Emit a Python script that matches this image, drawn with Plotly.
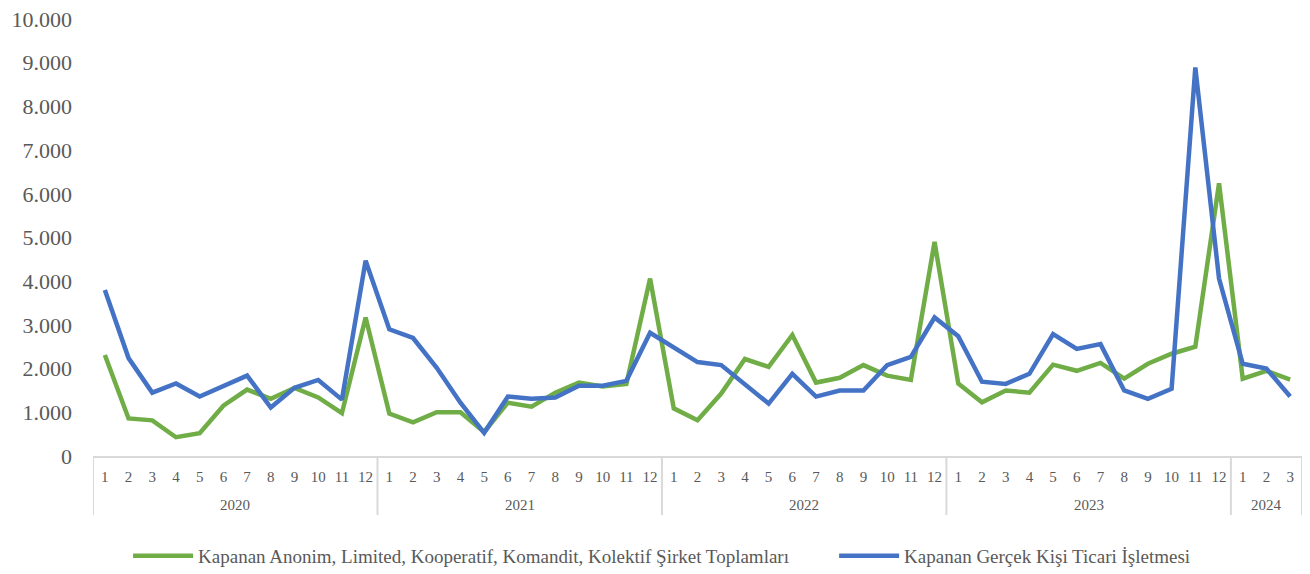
import plotly.graph_objs as go

# =============================================================================
# Data
# =============================================================================

YEARS = ["2020", "2021", "2022", "2023", "2024"]
MONTHS_IN_YEAR = [12, 12, 12, 12, 3]

SIRKET_NAME = "Kapanan Anonim, Limited, Kooperatif, Komandit, Kolektif Şirket Toplamları"
SIRKET = [
    2310, 860, 815, 430, 520, 1150, 1520, 1310, 1560, 1340, 980, 3170,
    970, 770, 1000, 1000, 550, 1220, 1130, 1450, 1680, 1590, 1650, 4060,
    1090, 820, 1430, 2220, 2040, 2770, 1680, 1790, 2080, 1840, 1740, 4900,
    1660, 1230, 1500, 1450, 2090, 1950, 2130, 1770, 2110, 2340, 2500, 6240,
    1770, 1950, 1750,
]

GERCEK_NAME = "Kapanan Gerçek Kişi Ticari İşletmesi"
GERCEK = [
    3800, 2240, 1450, 1660, 1360, 1590, 1840, 1110, 1560, 1740, 1290, 4470,
    2900, 2700, 2020, 1220, 530, 1360, 1310, 1340, 1610, 1610, 1720, 2820,
    2470, 2150, 2080, 1650, 1200, 1880, 1360, 1500, 1500, 2080, 2270, 3170,
    2740, 1700, 1650, 1880, 2790, 2450, 2560, 1500, 1310, 1540, 8890, 4060,
    2110, 2000, 1360,
]

FONT = "Liberation Serif, Times New Roman, serif"
GREY = "#595959"
LINE_GREY = "#D9D9D9"

# categories "month/year" on the x axis, month shown as tick text
x_cat = []
x_month = []
for year, n in zip(YEARS, MONTHS_IN_YEAR):
    for m in range(1, n + 1):
        x_cat.append("%d/%s" % (m, year))
        x_month.append(str(m))

# =============================================================================
# Figure
# =============================================================================

fig = go.Figure()
fig.add_trace(go.Scatter(
    name=SIRKET_NAME, x=x_cat, y=SIRKET, mode="lines",
    line=dict(color="#70AD47", width=4.5),
    legend="legend",
))
fig.add_trace(go.Scatter(
    name=GERCEK_NAME, x=x_cat, y=GERCEK, mode="lines",
    line=dict(color="#4472C4", width=4.5),
    legend="legend2",
))

# year group labels and divider lines of the category axis
plot_h = 566 - 11 - 118
start = 0
edges = [-0.5]
for year, n in zip(YEARS, MONTHS_IN_YEAR):
    fig.add_annotation(
        x=start + (n - 1) / 2, xref="x",
        y=-49 / plot_h, yref="paper", yanchor="middle",
        text=year, showarrow=False,
        font=dict(family=FONT, size=15, color=GREY),
    )
    start += n
    edges.append(start - 0.5)

for e in edges:
    fig.add_shape(
        type="line", xref="x", yref="paper",
        x0=e, x1=e, y0=0, y1=-59 / plot_h,
        line=dict(color=LINE_GREY, width=2),
    )

legend_style = dict(
    orientation="h",
    yanchor="middle",
    y=-100 / plot_h,
    xanchor="left",
    itemwidth=60,
    bgcolor="rgba(0,0,0,0)",
    font=dict(family=FONT, size=19, color=GREY),
)

# the page puts the figure 8px in from the top-left corner
fig.update_layout(
    width=1302,
    height=566,
    plot_bgcolor="#FFFFFF",
    paper_bgcolor="#FFFFFF",
    separators=",.",
    font=dict(family=FONT, color=GREY),
    margin=dict(l=85, r=8, t=11, b=118, autoexpand=False),
    showlegend=True,
    legend=dict(legend_style, x=0.029),
    legend2=dict(legend_style, x=0.613),
    xaxis=dict(
        type="category",
        range=[-0.5, len(x_cat) - 0.5],
        tickvals=x_cat,
        ticktext=x_month,
        ticks="",
        ticklabelstandoff=6,
        showline=True,
        linecolor=LINE_GREY,
        linewidth=2,
        showgrid=False,
        automargin=False,
        tickfont=dict(family=FONT, size=15, color=GREY),
        fixedrange=True,
    ),
    yaxis=dict(
        range=[0, 10000],
        dtick=1000,
        tickformat=",d",
        showgrid=False,
        showline=False,
        zeroline=False,
        ticks="",
        ticklabelstandoff=20,
        ticklabeloverflow="allow",
        automargin=False,
        tickfont=dict(family=FONT, size=22, color=GREY),
        fixedrange=True,
    ),
)

fig.write_html("out.html")
